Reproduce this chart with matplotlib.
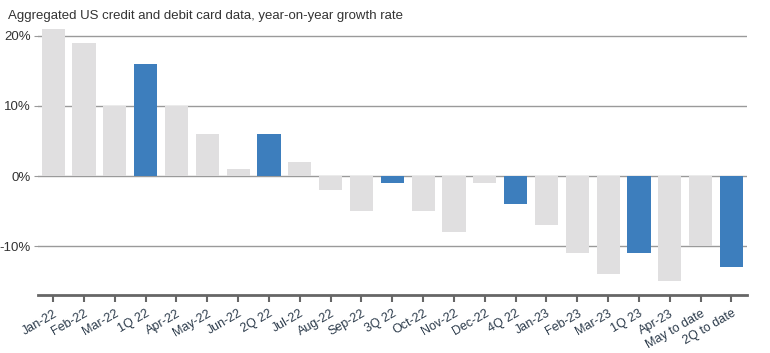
import matplotlib.pyplot as plt
import numpy as np

plt.rcParams['font.family'] = ['Liberation Sans', 'DejaVu Sans']

# year-on-year growth, %
categories = ['Jan-22', 'Feb-22', 'Mar-22', '1Q 22', 'Apr-22', 'May-22', 'Jun-22', '2Q 22',
              'Jul-22', 'Aug-22', 'Sep-22', '3Q 22', 'Oct-22', 'Nov-22', 'Dec-22', '4Q 22',
              'Jan-23', 'Feb-23', 'Mar-23', '1Q 23', 'Apr-23', 'May to date', '2Q to date']
values = [21, 19, 10, 16, 10, 6, 1, 6,
          2, -2, -5, -1, -5, -8, -1, -4,
          -7, -11, -14, -11, -15, -10, -13]
is_quarter = [c.startswith(('1Q', '2Q', '3Q', '4Q')) for c in categories]

grey = '#e0dfe0'
blue = '#3d7ebd'
colors = [blue if q else grey for q in is_quarter]

fig = plt.figure(figsize=(7.7, 3.53), dpi=100)
ax = fig.add_axes([0.049, 0.164, 0.921, 0.754])

x = np.arange(len(categories))
ax.bar(x, values, width=0.75, color=colors, zorder=2)

ax.set_xlim(-0.5, len(categories) - 0.5)
ax.set_ylim(-17, 21)
ax.set_yticks([-10, 0, 10, 20])
ax.set_yticklabels(['-10%', '0%', '10%', '20%'])
ax.yaxis.grid(True, color='#9a9a9a', linewidth=1, zorder=1)
ax.tick_params(axis='y', length=3, color='#9a9a9a', labelsize=9.5, labelcolor='#333333', pad=2)

ax.set_xticks(x)
ax.set_xticklabels(categories, rotation=30, ha='right', rotation_mode='anchor')
ax.tick_params(axis='x', length=5, width=1.5, color='#666666', labelsize=9,
               labelcolor='#2b3a4a', pad=4)

for s in ['top', 'right', 'left']:
    ax.spines[s].set_visible(False)
ax.spines['bottom'].set_color('#666666')
ax.spines['bottom'].set_linewidth(2)

fig.text(0.01, 0.955, 'Aggregated US credit and debit card data, year-on-year growth rate',
         fontsize=9.5, color='#333333', va='center')

plt.savefig('out.png', dpi=100)
